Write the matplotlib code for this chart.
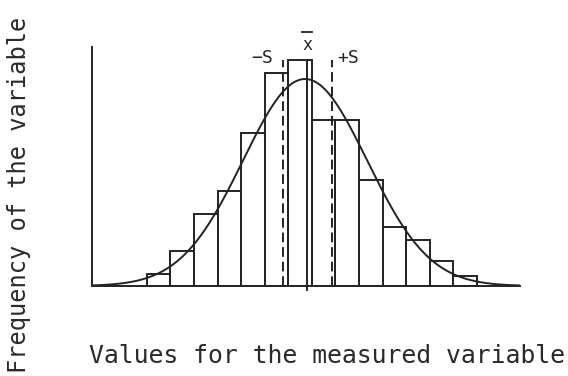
import numpy as np
import matplotlib
matplotlib.use("Agg")
import matplotlib.pyplot as plt

# Histogram classes (unit width) and their frequencies
bin_left = list(range(14))
frequencies = [2.4, 7.0, 14.4, 19.0, 30.6, 42.6, 45.1, 33.2, 33.2, 21.2, 11.8, 9.2, 5.1, 2.1]

# Sample statistics and the fitted normal curve parameters
mean_x = 6.79
minus_s = 5.79
plus_s = 7.84
curve_mu = 6.71
curve_sigma = 2.63
curve_peak = 41.4

x_label = "Values for the measured variable"
y_label = "Frequency of the variable"

ink = "#232323"
mono = "DejaVu Sans Mono"

fig = plt.figure(figsize=(5.68, 3.76), dpi=100)
ax = fig.add_axes([92 / 568, 90 / 376, 428 / 568, 239 / 376])
ax.set_xlim(-2.32, 15.82)
ax.set_ylim(0, 47.8)

# Histogram bars, outlined only
centers = [b + 0.5 for b in bin_left]
ax.bar(centers, frequencies, width=1.0, fill=False, edgecolor=ink,
       linewidth=1.4, zorder=2)

# Normal curve
xs = np.linspace(-2.32, 15.82, 600)
ys = curve_peak * np.exp(-0.5 * ((xs - curve_mu) / curve_sigma) ** 2)
ax.plot(xs, ys, color=ink, linewidth=1.4, zorder=3)

# Mean line, reaching slightly below the axis as a tick
ax.plot([mean_x, mean_x], [-0.8, frequencies[6]], color=ink, linewidth=1.4,
        clip_on=False, zorder=3)

# Dashed lines at mean minus / plus one standard deviation
for xv in (minus_s, plus_s):
    ax.plot([xv, xv], [0, 45.2], color=ink, linewidth=1.4,
            dashes=(5, 2.5), zorder=3)

# Labels for the mean and the standard deviation lines
ax.text(mean_x, 48.1, "x", family=mono, fontsize=12, color=ink,
        ha="center", va="center", clip_on=False)
ax.plot([mean_x - 0.2, mean_x + 0.2], [50.8, 50.8], color=ink,
        linewidth=1.3, clip_on=False)
ax.text(4.91, 45.6, "−S", family=mono, fontsize=13, color=ink,
        ha="center", va="center")
ax.text(8.53, 45.6, "+S", family=mono, fontsize=13, color=ink,
        ha="center", va="center")

# Axes: only the left and bottom lines, no ticks
for side in ("top", "right"):
    ax.spines[side].set_visible(False)
for side in ("left", "bottom"):
    ax.spines[side].set_linewidth(1.4)
    ax.spines[side].set_color(ink)
ax.set_xticks([])
ax.set_yticks([])

fig.text(89 / 568, 1 - 356 / 376, x_label, family=mono, fontsize=17.8,
         color="#2a2a2a", ha="left", va="center")
fig.text(19 / 568, 1 - 195 / 376, y_label, family=mono, fontsize=17,
         color="#2a2a2a", ha="center", va="center", rotation=90)

fig.savefig("out.png", dpi=100, facecolor="white")
